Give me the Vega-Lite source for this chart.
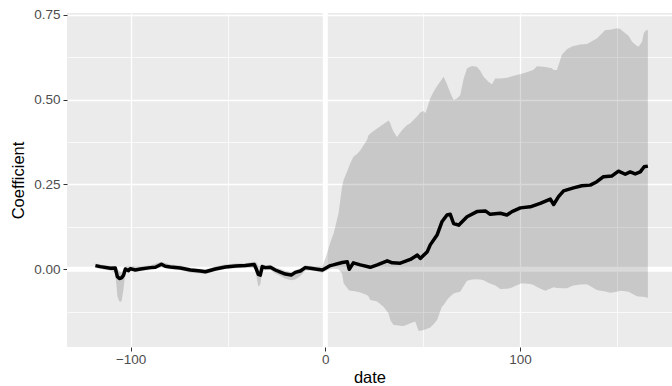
{
  "$schema": "https://vega.github.io/schema/vega-lite/v6.json",
  "autosize": {"type": "none"},
  "padding": {"left": 67, "top": 13, "right": 0, "bottom": 39},
  "width": 605,
  "height": 334,
  "background": "white",
  "config": {
    "view": {"fill": "#EBEBEB", "stroke": null},
    "font": "Liberation Sans",
    "axis": {
      "domain": false,
      "grid": true,
      "gridColor": "white",
      "tickColor": "#333333",
      "tickWidth": 1,
      "tickSize": 4,
      "labelColor": "#4D4D4D",
      "labelFont": "Liberation Sans",
      "labelFontSize": 13.5,
      "titleFont": "Liberation Sans",
      "titleFontSize": 16.5,
      "titleFontWeight": "normal",
      "titleColor": "black"
    }
  },
  "datasets": {
    "zero": [{"v": 0}],
    "band": [
      {"date": -118.1, "lo": 0.004, "hi": 0.017},
      {"date": -115.6, "lo": 0.001, "hi": 0.014},
      {"date": -110.4, "lo": -0.004, "hi": 0.010},
      {"date": -107.9, "lo": -0.010, "hi": 0.010},
      {"date": -106.8, "lo": -0.080, "hi": 0.000},
      {"date": -105.8, "lo": -0.095, "hi": -0.005},
      {"date": -104.7, "lo": -0.095, "hi": -0.010},
      {"date": -103.7, "lo": -0.060, "hi": 0.000},
      {"date": -102.7, "lo": -0.007, "hi": 0.008},
      {"date": -100.2, "lo": -0.006, "hi": 0.009},
      {"date": -95.0, "lo": -0.006, "hi": 0.008},
      {"date": -89.9, "lo": -0.002, "hi": 0.012},
      {"date": -84.2, "lo": 0.006, "hi": 0.022},
      {"date": -79.6, "lo": 0.000, "hi": 0.014},
      {"date": -74.5, "lo": -0.003, "hi": 0.011},
      {"date": -69.3, "lo": -0.009, "hi": 0.005},
      {"date": -64.2, "lo": -0.012, "hi": 0.002},
      {"date": -61.6, "lo": -0.014, "hi": 0.000},
      {"date": -56.5, "lo": -0.006, "hi": 0.008},
      {"date": -51.4, "lo": 0.000, "hi": 0.014},
      {"date": -46.2, "lo": 0.003, "hi": 0.017},
      {"date": -41.1, "lo": 0.004, "hi": 0.018},
      {"date": -36.5, "lo": 0.005, "hi": 0.022},
      {"date": -35.4, "lo": -0.020, "hi": 0.020},
      {"date": -34.4, "lo": -0.051, "hi": 0.010},
      {"date": -33.4, "lo": -0.045, "hi": 0.010},
      {"date": -32.4, "lo": -0.005, "hi": 0.015},
      {"date": -30.8, "lo": -0.003, "hi": 0.012},
      {"date": -28.2, "lo": -0.002, "hi": 0.013},
      {"date": -25.7, "lo": -0.012, "hi": 0.006},
      {"date": -23.1, "lo": -0.020, "hi": 0.002},
      {"date": -20.5, "lo": -0.028, "hi": -0.004},
      {"date": -17.5, "lo": -0.032, "hi": -0.008},
      {"date": -15.4, "lo": -0.030, "hi": -0.002},
      {"date": -12.8, "lo": -0.020, "hi": 0.003},
      {"date": -10.3, "lo": -0.004, "hi": 0.012},
      {"date": -7.7, "lo": -0.004, "hi": 0.010},
      {"date": -5.1, "lo": -0.006, "hi": 0.008},
      {"date": -1.5, "lo": -0.010, "hi": 0.008},
      {"date": 0.9, "lo": -0.003, "hi": 0.047},
      {"date": 2.6, "lo": 0.000, "hi": 0.080},
      {"date": 4.3, "lo": 0.002, "hi": 0.106},
      {"date": 6.8, "lo": 0.000, "hi": 0.165},
      {"date": 8.6, "lo": -0.012, "hi": 0.243},
      {"date": 9.4, "lo": -0.041, "hi": 0.263},
      {"date": 12.0, "lo": -0.061, "hi": 0.300},
      {"date": 12.8, "lo": -0.063, "hi": 0.312},
      {"date": 14.5, "lo": -0.064, "hi": 0.332},
      {"date": 16.3, "lo": -0.066, "hi": 0.340},
      {"date": 18.0, "lo": -0.068, "hi": 0.351},
      {"date": 21.4, "lo": -0.076, "hi": 0.381},
      {"date": 22.2, "lo": -0.080, "hi": 0.395},
      {"date": 23.1, "lo": -0.090, "hi": 0.400},
      {"date": 26.6, "lo": -0.095, "hi": 0.415},
      {"date": 29.9, "lo": -0.110, "hi": 0.428},
      {"date": 32.5, "lo": -0.130, "hi": 0.438},
      {"date": 33.4, "lo": -0.149, "hi": 0.430},
      {"date": 34.3, "lo": -0.158, "hi": 0.415},
      {"date": 35.1, "lo": -0.164, "hi": 0.405},
      {"date": 36.8, "lo": -0.165, "hi": 0.390},
      {"date": 39.4, "lo": -0.167, "hi": 0.410},
      {"date": 40.2, "lo": -0.167, "hi": 0.415},
      {"date": 42.0, "lo": -0.163, "hi": 0.425},
      {"date": 43.7, "lo": -0.159, "hi": 0.430},
      {"date": 46.2, "lo": -0.154, "hi": 0.445},
      {"date": 47.9, "lo": -0.181, "hi": 0.455},
      {"date": 48.8, "lo": -0.181, "hi": 0.462},
      {"date": 50.5, "lo": -0.179, "hi": 0.466},
      {"date": 51.4, "lo": -0.177, "hi": 0.460},
      {"date": 52.2, "lo": -0.175, "hi": 0.472},
      {"date": 53.9, "lo": -0.171, "hi": 0.504},
      {"date": 55.6, "lo": -0.162, "hi": 0.523},
      {"date": 57.4, "lo": -0.149, "hi": 0.540},
      {"date": 59.9, "lo": -0.110, "hi": 0.560},
      {"date": 60.8, "lo": -0.105, "hi": 0.567},
      {"date": 62.5, "lo": -0.090, "hi": 0.545},
      {"date": 64.2, "lo": -0.080, "hi": 0.520},
      {"date": 65.9, "lo": -0.071, "hi": 0.499},
      {"date": 67.6, "lo": -0.068, "hi": 0.503},
      {"date": 69.3, "lo": -0.066, "hi": 0.513},
      {"date": 71.0, "lo": -0.050, "hi": 0.560},
      {"date": 72.8, "lo": -0.034, "hi": 0.592},
      {"date": 75.3, "lo": -0.030, "hi": 0.599},
      {"date": 77.9, "lo": -0.029, "hi": 0.597},
      {"date": 79.6, "lo": -0.030, "hi": 0.585},
      {"date": 81.3, "lo": -0.032, "hi": 0.567},
      {"date": 83.9, "lo": -0.040, "hi": 0.552},
      {"date": 85.6, "lo": -0.044, "hi": 0.545},
      {"date": 87.3, "lo": -0.048, "hi": 0.562},
      {"date": 89.9, "lo": -0.058, "hi": 0.562},
      {"date": 93.3, "lo": -0.057, "hi": 0.564},
      {"date": 95.0, "lo": -0.056, "hi": 0.567},
      {"date": 99.3, "lo": -0.045, "hi": 0.574},
      {"date": 101.0, "lo": -0.041, "hi": 0.576},
      {"date": 105.3, "lo": -0.043, "hi": 0.584},
      {"date": 107.0, "lo": -0.046, "hi": 0.588},
      {"date": 108.7, "lo": -0.052, "hi": 0.598},
      {"date": 112.1, "lo": -0.061, "hi": 0.597},
      {"date": 113.0, "lo": -0.063, "hi": 0.596},
      {"date": 116.4, "lo": -0.055, "hi": 0.592},
      {"date": 117.3, "lo": -0.053, "hi": 0.587},
      {"date": 119.0, "lo": -0.055, "hi": 0.587},
      {"date": 121.6, "lo": -0.056, "hi": 0.633},
      {"date": 124.1, "lo": -0.056, "hi": 0.648},
      {"date": 126.7, "lo": -0.049, "hi": 0.656},
      {"date": 127.5, "lo": -0.048, "hi": 0.658},
      {"date": 131.0, "lo": -0.045, "hi": 0.662},
      {"date": 134.4, "lo": -0.044, "hi": 0.664},
      {"date": 139.5, "lo": -0.061, "hi": 0.680},
      {"date": 143.8, "lo": -0.065, "hi": 0.705},
      {"date": 146.4, "lo": -0.069, "hi": 0.706},
      {"date": 149.8, "lo": -0.066, "hi": 0.710},
      {"date": 151.5, "lo": -0.063, "hi": 0.708},
      {"date": 153.2, "lo": -0.064, "hi": 0.700},
      {"date": 155.8, "lo": -0.066, "hi": 0.688},
      {"date": 157.6, "lo": -0.072, "hi": 0.670},
      {"date": 160.1, "lo": -0.079, "hi": 0.658},
      {"date": 161.0, "lo": -0.080, "hi": 0.656},
      {"date": 162.7, "lo": -0.081, "hi": 0.670},
      {"date": 163.6, "lo": -0.081, "hi": 0.695},
      {"date": 164.4, "lo": -0.082, "hi": 0.702},
      {"date": 165.7, "lo": -0.084, "hi": 0.706}
    ],
    "line": [
      {"date": -118.1, "coef": 0.011},
      {"date": -115.6, "coef": 0.008},
      {"date": -110.4, "coef": 0.003},
      {"date": -107.9, "coef": 0.004},
      {"date": -106.8, "coef": -0.022},
      {"date": -105.8, "coef": -0.027},
      {"date": -104.7, "coef": -0.025},
      {"date": -103.7, "coef": -0.018},
      {"date": -102.7, "coef": 0.001},
      {"date": -101.1, "coef": -0.004},
      {"date": -100.2, "coef": 0.002},
      {"date": -97.6, "coef": -0.002},
      {"date": -95.0, "coef": 0.001},
      {"date": -89.9, "coef": 0.005},
      {"date": -87.3, "coef": 0.006},
      {"date": -84.2, "coef": 0.015},
      {"date": -82.2, "coef": 0.009},
      {"date": -79.6, "coef": 0.007},
      {"date": -74.5, "coef": 0.004},
      {"date": -69.3, "coef": -0.002},
      {"date": -64.2, "coef": -0.005},
      {"date": -61.6, "coef": -0.007},
      {"date": -56.5, "coef": 0.001},
      {"date": -51.4, "coef": 0.007},
      {"date": -46.2, "coef": 0.010},
      {"date": -41.1, "coef": 0.011},
      {"date": -36.5, "coef": 0.014},
      {"date": -35.4, "coef": 0.000},
      {"date": -34.4, "coef": -0.015},
      {"date": -33.4, "coef": -0.017},
      {"date": -32.4, "coef": 0.008},
      {"date": -30.8, "coef": 0.005},
      {"date": -28.2, "coef": 0.006},
      {"date": -25.7, "coef": -0.002},
      {"date": -23.1, "coef": -0.008},
      {"date": -20.5, "coef": -0.014},
      {"date": -17.5, "coef": -0.017},
      {"date": -15.4, "coef": -0.009},
      {"date": -12.8, "coef": -0.005},
      {"date": -10.3, "coef": 0.005},
      {"date": -7.7, "coef": 0.003},
      {"date": -5.1, "coef": 0.001},
      {"date": -1.5, "coef": -0.002},
      {"date": 2.6, "coef": 0.011},
      {"date": 4.1, "coef": 0.013},
      {"date": 8.7, "coef": 0.020},
      {"date": 11.3, "coef": 0.022},
      {"date": 12.3, "coef": 0.000},
      {"date": 14.4, "coef": 0.019},
      {"date": 18.0, "coef": 0.013},
      {"date": 23.1, "coef": 0.006},
      {"date": 26.7, "coef": 0.013},
      {"date": 31.8, "coef": 0.025},
      {"date": 34.4, "coef": 0.019},
      {"date": 38.5, "coef": 0.018},
      {"date": 43.7, "coef": 0.029},
      {"date": 47.3, "coef": 0.042},
      {"date": 48.8, "coef": 0.032},
      {"date": 52.4, "coef": 0.052},
      {"date": 53.9, "coef": 0.072},
      {"date": 57.4, "coef": 0.101},
      {"date": 59.9, "coef": 0.140},
      {"date": 62.5, "coef": 0.160},
      {"date": 64.2, "coef": 0.162},
      {"date": 65.9, "coef": 0.135},
      {"date": 68.5, "coef": 0.130},
      {"date": 72.8, "coef": 0.155},
      {"date": 77.9, "coef": 0.170},
      {"date": 82.2, "coef": 0.172},
      {"date": 84.7, "coef": 0.162},
      {"date": 89.9, "coef": 0.165},
      {"date": 93.3, "coef": 0.160},
      {"date": 95.9, "coef": 0.170},
      {"date": 100.2, "coef": 0.181},
      {"date": 105.3, "coef": 0.184},
      {"date": 110.4, "coef": 0.194},
      {"date": 115.6, "coef": 0.207},
      {"date": 117.3, "coef": 0.191},
      {"date": 119.8, "coef": 0.214},
      {"date": 122.4, "coef": 0.231},
      {"date": 127.5, "coef": 0.240},
      {"date": 131.8, "coef": 0.246},
      {"date": 136.1, "coef": 0.248},
      {"date": 139.5, "coef": 0.258},
      {"date": 142.9, "coef": 0.273},
      {"date": 147.3, "coef": 0.275},
      {"date": 150.6, "coef": 0.289},
      {"date": 154.1, "coef": 0.280},
      {"date": 156.6, "coef": 0.287},
      {"date": 159.2, "coef": 0.281},
      {"date": 161.8, "coef": 0.287},
      {"date": 163.8, "coef": 0.302},
      {"date": 165.7, "coef": 0.304}
    ]
  },
  "layer": [
    {
      "data": {"name": "zero"},
      "mark": {"type": "rule", "color": "white", "strokeWidth": 5},
      "encoding": {"y": {"field": "v", "type": "quantitative", "title": "Coefficient"}}
    },
    {
      "data": {"name": "zero"},
      "mark": {"type": "rule", "color": "white", "strokeWidth": 5},
      "encoding": {"x": {"field": "v", "type": "quantitative", "title": "date"}}
    },
    {
      "data": {"name": "band"},
      "mark": {"type": "area", "color": "black", "opacity": 0.15},
      "encoding": {
        "x": {
          "field": "date", "type": "quantitative", "title": "date",
          "scale": {"domain": [-132.7, 178.1], "nice": false, "zero": false},
          "axis": {
            "grid": true,
            "values": [-100, -50, 0, 50, 100, 150],
            "labelExpr": "datum.value % 100 === 0 ? format(datum.value, 'd') : ''",
            "gridWidth": {"condition": {"test": "datum.value % 100 === 0", "value": 1.3}, "value": 0.7},
            "tickOpacity": {"condition": {"test": "datum.value % 100 === 0", "value": 1}, "value": 0},
            "labelPadding": 1,
            "titlePadding": 4
          }
        },
        "y": {
          "field": "lo", "type": "quantitative", "title": "Coefficient",
          "scale": {"domain": [-0.2288, 0.755], "nice": false, "zero": false},
          "axis": {
            "grid": true,
            "values": [-0.125, 0, 0.125, 0.25, 0.375, 0.5, 0.625, 0.75],
            "labelExpr": "(datum.value * 1000) % 250 === 0 ? format(datum.value, '.2f') : ''",
            "gridWidth": {"condition": {"test": "(datum.value * 1000) % 250 === 0", "value": 1.3}, "value": 0.7},
            "tickOpacity": {"condition": {"test": "(datum.value * 1000) % 250 === 0", "value": 1}, "value": 0},
            "labelPadding": 3,
            "titlePadding": 7
          }
        },
        "y2": {"field": "hi"}
      }
    },
    {
      "data": {"name": "line"},
      "mark": {"type": "line", "color": "black", "strokeWidth": 3.5, "strokeJoin": "round"},
      "encoding": {
        "x": {"field": "date", "type": "quantitative", "title": "date"},
        "y": {"field": "coef", "type": "quantitative", "title": "Coefficient"}
      }
    }
  ]
}
